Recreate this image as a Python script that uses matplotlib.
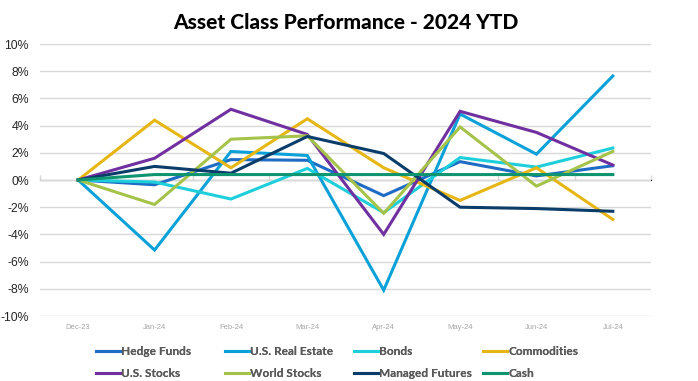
import matplotlib
matplotlib.use("Agg")
import matplotlib.pyplot as plt
import numpy as np

# monthly cumulative returns, percent
months = ["Dec-23", "Jan-24", "Feb-24", "Mar-24", "Apr-24", "May-24", "Jun-24", "Jul-24"]
hedge_funds = [0, -0.35, 1.5, 1.45, -1.15, 1.35, 0.3, 1.05]
us_real_estate = [0, -5.15, 2.1, 1.8, -8.1, 4.85, 1.9, 7.65]
bonds = [0, -0.15, -1.4, 0.85, -2.4, 1.65, 0.95, 2.35]
commodities = [0, 4.4, 0.9, 4.5, 0.9, -1.5, 0.9, -2.9]
us_stocks = [0, 1.6, 5.2, 3.35, -4.0, 5.05, 3.5, 1.1]
world_stocks = [0, -1.8, 3.0, 3.25, -2.45, 3.9, -0.45, 2.1]
managed_futures = [0, 1.0, 0.5, 3.2, 1.95, -2.0, -2.1, -2.3]
cash = [0, 0.4, 0.4, 0.4, 0.4, 0.4, 0.4, 0.4]

series = [
    ("Hedge Funds", hedge_funds, "#1F6CC4"),
    ("U.S. Real Estate", us_real_estate, "#0AA1D8"),
    ("Bonds", bonds, "#1ECFDB"),
    ("Commodities", commodities, "#E6B714"),
    ("U.S. Stocks", us_stocks, "#7030A0"),
    ("World Stocks", world_stocks, "#A5C34B"),
    ("Managed Futures", managed_futures, "#0B3D6B"),
    ("Cash", cash, "#0F9470"),
]

fig = plt.figure(figsize=(6.98, 3.81), dpi=100)
ax = fig.add_axes([0.0573, 0.1706, 0.8754, 0.7139])

x = np.arange(len(months))
lines = {}
for name, vals, col in series:
    (ln,) = ax.plot(x, vals, color=col, linewidth=2.2, label=name,
                    solid_joinstyle="miter", zorder=3)
    lines[name] = ln

ax.set_xlim(-0.5, len(months) - 0.5)
ax.set_ylim(-10, 10)
ax.set_yticks(np.arange(-10, 11, 2))
ax.set_yticklabels([f"{v}%" for v in range(-10, 11, 2)],
                   fontsize=8.8, color="#262626", family="Liberation Sans")
ax.set_xticks(x)
ax.set_xticklabels(months, fontsize=5.5, color="#A6A6A6", family="Liberation Sans")
ax.tick_params(axis="both", length=0, pad=6)
ax.tick_params(axis="y", pad=8)
ax.grid(axis="y", color="#D9D9D9", linewidth=1)
ax.set_axisbelow(True)
for s in ax.spines.values():
    s.set_visible(False)

# category axis line at 0% with small tick marks between months
sec = ax.secondary_xaxis(0.5)
sec.set_xticks(np.arange(-0.5, len(months), 1))
sec.set_xticklabels([])
sec.tick_params(axis="x", direction="out", length=3.5, color="#D9D9D9", width=1)
sec.spines["bottom"].set_color("#D9D9D9")

fig.text(0.495, 0.94, "Asset Class Performance - 2024 YTD", ha="center", va="center",
         fontsize=15, fontweight="black", family="Lato", color="#000000")

# legend: four columns placed at fixed positions
legend_cols = [["Hedge Funds", "U.S. Stocks"], ["U.S. Real Estate", "World Stocks"],
               ["Bonds", "Managed Futures"], ["Commodities", "Cash"]]
col_x = [96, 225, 354, 483]
for names, px in zip(legend_cols, col_x):
    leg = fig.legend([lines[n] for n in names], names, loc="upper left",
                     bbox_to_anchor=(px / 698, 1 - 346 / 381), frameon=False,
                     prop={"family": "Lato", "weight": "bold", "size": 8.6},
                     handlelength=2.0, handletextpad=0.1, labelspacing=0.95,
                     borderpad=0, borderaxespad=0)
    for t in leg.get_texts():
        t.set_color("#595959")
    fig.add_artist(leg)

fig.savefig("out.png", dpi=100)
